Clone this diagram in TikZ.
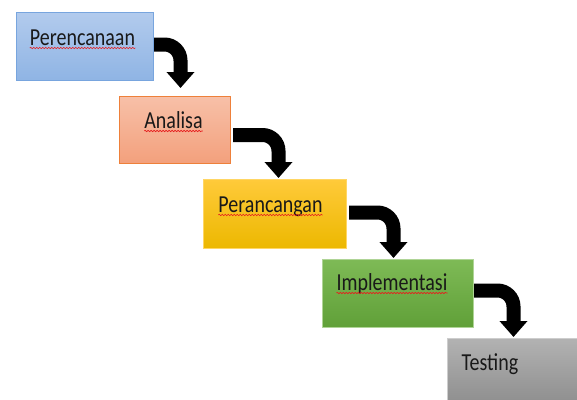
\documentclass[tikz,border=0pt]{standalone}
\usepackage{fontspec}
\setmainfont{Carlito}
\usetikzlibrary{arrows.meta,decorations.pathmorphing}
\definecolor{bluetop}{RGB}{178,203,237}
\definecolor{bluebot}{RGB}{143,180,228}
\definecolor{blueline}{RGB}{120,165,222}
\definecolor{salmtop}{RGB}{247,192,168}
\definecolor{salmbot}{RGB}{243,160,124}
\definecolor{salmline}{RGB}{238,128,58}
\definecolor{yeltop}{RGB}{255,202,58}
\definecolor{yelbot}{RGB}{236,184,0}
\definecolor{yelline}{RGB}{255,214,100}
\definecolor{grntop}{RGB}{126,186,86}
\definecolor{grnbot}{RGB}{96,160,56}
\definecolor{grnline}{RGB}{175,212,150}
\definecolor{grytop}{RGB}{178,178,178}
\definecolor{grybot}{RGB}{142,142,142}
\definecolor{gryline}{RGB}{205,205,205}
\definecolor{squigred}{RGB}{230,30,30}
\newcommand{\boxlabel}[1]{\scalebox{1}[1.22]{#1}}
\begin{document}
\begin{tikzpicture}[x=1pt,y=-1pt,
  stage/.style={rectangle, anchor=north west, inner sep=0pt, line width=1pt},
  lbl/.style={inner sep=0pt, anchor=base, text=black!90, font=\fontsize{20}{24}\selectfont},
  squig/.style={draw=squigred, line width=0.6pt, decorate,
    decoration={snake, segment length=3pt, amplitude=0.7pt}},
  flow/.style={line width=14pt, rounded corners=16pt,
    -{Triangle[width=27pt,length=16pt]}}]
\useasboundingbox (0,0) rectangle (577,399);
% boxes
\node[stage, draw=blueline, top color=bluetop, bottom color=bluebot,
  minimum width=137pt, minimum height=68pt] (b1) at (16,12) {};
\node[stage, draw=salmline, top color=salmtop, bottom color=salmbot,
  minimum width=111pt, minimum height=67pt] (b2) at (119,96) {};
\node[stage, draw=yelline, top color=yeltop, bottom color=yelbot,
  minimum width=143pt, minimum height=69pt] (b3) at (203,179) {};
\node[stage, draw=grnline, top color=grntop, bottom color=grnbot,
  minimum width=151pt, minimum height=68pt] (b4) at (322,259) {};
\node[stage, draw=gryline, top color=grytop, bottom color=grybot,
  minimum width=140pt, minimum height=66pt] (b5) at (447,338) {};
% labels
\node[lbl] (t1) at (82.5,45) {\boxlabel{Perencanaan}};
\node[lbl] (t2) at (173.5,128) {\boxlabel{Analisa}};
\node[lbl] (t3) at (270.5,212) {\boxlabel{Perancangan}};
\node[lbl] (t4) at (392,290) {\boxlabel{Implementasi}};
\node[lbl] (t5) at (490,370) {\boxlabel{Testing}};
% spell-check squiggles
\foreach \t in {t1,t2,t3,t4}
  \draw[squig] ([yshift=-3pt]\t.base west) -- ([yshift=-3pt]\t.base east);
% arrows
\draw[flow] ([yshift=2pt]b1.east) -| ([xshift=5.5pt,yshift=8pt]b2.north);
\draw[flow] ([xshift=2pt,yshift=-5pt]b2.east) -| ([xshift=3.5pt,yshift=1pt]b3.north);
\draw[flow] ([xshift=2pt,yshift=1.5pt]b3.east) -| ([xshift=-4.5pt,yshift=1pt]b4.north);
\draw[flow] ([yshift=3pt]b4.east) -| ([xshift=-4pt,yshift=1pt]b5.north);
\end{tikzpicture}
\end{document}
